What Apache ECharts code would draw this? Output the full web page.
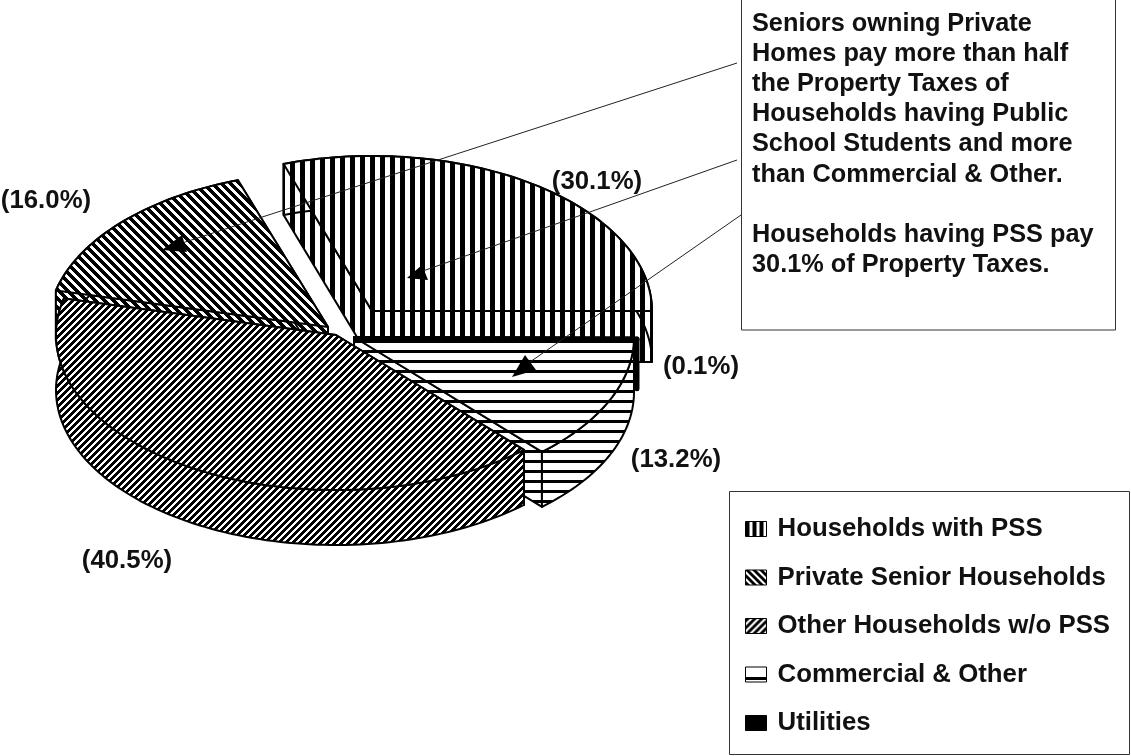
<!DOCTYPE html>
<html>
<head>
<meta charset="utf-8">
<style>
  html, body { margin: 0; padding: 0; background: #fff; }
  #chart { width: 1131px; height: 756px; }
</style>
<script src="https://cdn.jsdelivr.net/npm/echarts@6/dist/echarts.min.js"></script>
</head>
<body>
<div id="chart"></div>
<script>
// values
var categories = ['Households with PSS', 'Private Senior Households', 'Commercial & Other', 'Utilities', 'Other Households w/o PSS'];
var legendOrder = ['Households with PSS', 'Private Senior Households', 'Other Households w/o PSS', 'Commercial & Other', 'Utilities'];
var shares = { 'Households with PSS': 30.1, 'Utilities': 0.1, 'Commercial & Other': 13.2, 'Other Households w/o PSS': 40.5, 'Private Senior Households': 16.0 };
var clockwiseOrder = ['Households with PSS', 'Utilities', 'Commercial & Other', 'Other Households w/o PSS', 'Private Senior Households'];
var noteLines = [
  'Seniors owning Private', 'Homes pay more than half', 'the Property Taxes of',
  'Households having Public', 'School Students and more', 'than Commercial & Other.', '',
  'Households having PSS pay', '30.1% of Property Taxes.'
];

var font = '"Liberation Sans", Arial, sans-serif';
var fontSize = 25.8;
var radiusX = 280, radiusY = 155;
var startAngle = -108.4; // first slice starts here, going clockwise

function makeTile(w, h, isBlack) {
  var c = document.createElement('canvas');
  c.width = w; c.height = h;
  var ctx = c.getContext('2d');
  ctx.fillStyle = '#fff';
  ctx.fillRect(0, 0, w, h);
  ctx.fillStyle = '#000';
  for (var y = 0; y < h; y++) {
    for (var x = 0; x < w; x++) {
      if (isBlack(x, y)) ctx.fillRect(x, y, 1, 1);
    }
  }
  return { image: c, repeat: 'repeat' };
}

var fills = {
  'Households with PSS': makeTile(10, 1, function (x) { return x < 5; }),
  'Private Senior Households': makeTile(9, 9, function (x, y) { return (x - y + 9) % 9 < 5; }),
  'Other Households w/o PSS': makeTile(7, 7, function (x, y) { return (x + y) % 7 < 4; }),
  'Commercial & Other': makeTile(1, 10, function (x, y) { return y < 3; }),
  'Utilities': '#000'
};
var legendFills = {
  'Households with PSS': makeTile(7, 1, function (x) { return x < 4; }),
  'Private Senior Households': makeTile(7, 7, function (x, y) { return (x - y + 7) % 7 < 4; }),
  'Other Households w/o PSS': makeTile(7, 7, function (x, y) { return (x + y) % 7 < 4; }),
  'Commercial & Other': makeTile(1, 16, function (x, y) { return y > 9 && y < 13; }),
  'Utilities': '#000'
};

// each slice is pulled away from the pie by its own amount
var sliceStyle = {
  'Households with PSS': { cx: 372, cy: 311, depth: 51, labelX: 597, labelY: 182 },
  'Utilities': { cx: 357, cy: 339, depth: 49, labelX: 701, labelY: 367, line: 5, thin: true },
  'Commercial & Other': { cx: 354, cy: 337, depth: 55, labelX: 676, labelY: 460 },
  'Other Households w/o PSS': { cx: 336, cy: 335, depth: 55, labelX: 127, labelY: 561 },
  'Private Senior Households': { cx: 328, cy: 327, depth: 50, labelX: 46, labelY: 201 }
};

// start and end angle of a slice from the shares
function sliceAngles(name) {
  var a = startAngle;
  for (var i = 0; i < clockwiseOrder.length; i++) {
    var sweep = shares[clockwiseOrder[i]] * 3.6;
    if (clockwiseOrder[i] === name) return [a, a + sweep];
    a += sweep;
  }
}

function rim(cx, cy, t0, t1) {
  var pts = [];
  var n = Math.max(2, Math.ceil((t1 - t0) / 1.5));
  for (var i = 0; i <= n; i++) {
    var t = (t0 + (t1 - t0) * i / n) * Math.PI / 180;
    pts.push([cx + radiusX * Math.cos(t), cy + radiusY * Math.sin(t)]);
  }
  return pts;
}

function renderSlice(name) {
  return function (params, api) {
    var s = sliceStyle[name];
    var ang = sliceAngles(name);
    var lw = s.line || 2;
    var arc = rim(s.cx, s.cy, ang[0], ang[1]);
    var c = [s.cx, s.cy];
    var first = arc[0], last = arc[arc.length - 1];
    var style = { fill: fills[name], stroke: '#000', lineWidth: lw, lineJoin: 'round' };
    function down(pts) {
      return pts.map(function (p) { return [p[0], p[1] + s.depth]; });
    }
    function poly(points) {
      return { type: 'polygon', shape: { points: points }, style: style };
    }
    var children = [];
    if (!s.thin) {
      children.push(poly([c, first].concat(down([first, c]))));
      children.push(poly([c, last].concat(down([last, c]))));
    }
    children.push(poly(arc.concat(down(arc).reverse())));
    children.push(poly([c].concat(arc)));
    children.push({
      type: 'text', z2: 50,
      style: {
        x: s.labelX, y: s.labelY, text: '(' + api.value(0).toFixed(1) + '%)',
        fill: '#111', font: 'bold ' + fontSize + 'px ' + font,
        align: 'center', verticalAlign: 'middle'
      }
    });
    return { type: 'group', children: children };
  };
}

// painted back to front
var series = categories.map(function (name) {
  return {
    type: 'custom',
    name: name,
    coordinateSystem: 'none',
    silent: true,
    animation: false,
    itemStyle: { color: '#000' },
    renderItem: renderSlice(name),
    data: [[shares[name]]]
  };
});

// callout lines run from the note box to a small arrow head on each slice
var callouts = [
  { from: [737, 63], to: [176, 245], head: [[162, 250], [182, 235], [187, 252]] },
  { from: [737, 160], to: [420, 272], head: [[407, 278], [422, 265], [428, 280]] },
  { from: [741, 215], to: [530, 362], head: [[512, 377], [525, 355], [536, 370]] }
];
var graphics = [
  {
    type: 'rect', z: 90, silent: true,
    shape: { x: 741.5, y: -5, width: 374, height: 335 },
    style: { fill: '#fff', stroke: '#333', lineWidth: 1 }
  },
  {
    type: 'text', z: 91, silent: true, x: 752, y: 9,
    style: {
      text: noteLines.join('\n'), fill: '#111', font: 'bold 25.3px ' + font,
      lineHeight: 30.1, align: 'left', verticalAlign: 'top'
    }
  },
  // legend frame, the legend itself sits inside it
  {
    type: 'rect', z: 0, silent: true,
    shape: { x: 729.5, y: 491.5, width: 400, height: 263 },
    style: { fill: 'none', stroke: '#333', lineWidth: 1 }
  }
];
callouts.forEach(function (c) {
  graphics.push({
    type: 'line', z: 80, silent: true,
    shape: { x1: c.from[0], y1: c.from[1], x2: c.to[0], y2: c.to[1] },
    style: { stroke: '#222', lineWidth: 1 }
  });
  graphics.push({
    type: 'polygon', z: 81, silent: true,
    shape: { points: c.head },
    style: { fill: '#000' }
  });
});

var chart = echarts.init(document.getElementById('chart'), null, { renderer: 'canvas' });
chart.setOption({
  animation: false,
  backgroundColor: '#fff',
  legend: {
    orient: 'vertical',
    left: 745,
    top: 516,
    padding: 0,
    itemGap: 22.5,
    itemWidth: 21,
    itemHeight: 15,
    selectedMode: false,
    icon: 'rect',
    textStyle: { fontFamily: font, fontWeight: 'bold', fontSize: fontSize, color: '#111', padding: [0, 0, 0, 6] },
    data: legendOrder.map(function (name) {
      return { name: name, icon: 'rect', itemStyle: { color: legendFills[name], borderColor: '#000', borderWidth: 1 } };
    })
  },
  graphic: graphics,
  series: series
});
</script>
</body>
</html>
